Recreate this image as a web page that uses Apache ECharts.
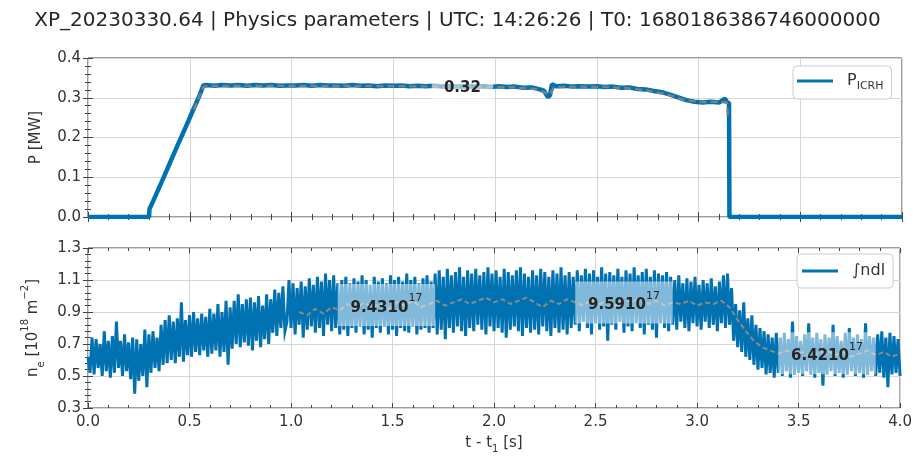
<!DOCTYPE html>
<html><head><meta charset="utf-8">
<script src="https://cdn.jsdelivr.net/npm/echarts@6/dist/echarts.min.js"></script>
<style>html,body{margin:0;padding:0;background:#fff}#c{width:915px;height:456px}</style>
</head><body><div id="c"></div>
<script>
// ---------- DATA ----------
const titleText = 'XP_20230330.64 | Physics parameters | UTC: 14:26:26 | T0: 1680186386746000000';
const xTicks = [0, 0.5, 1, 1.5, 2, 2.5, 3, 3.5, 4];
const pTicks = [0, 0.1, 0.2, 0.3, 0.4];
const neTicks = [0.3, 0.5, 0.7, 0.9, 1.1, 1.3];

// ICRH power [MW]
const pTime = [0.00,0.30,0.302,0.32,0.36,0.40,0.44,0.48,0.52,0.545,0.567,
  0.58,0.62,0.66,0.70,0.74,0.78,0.82,0.86,0.90,0.94,0.98,
  1.02,1.06,1.10,1.14,1.18,1.22,1.26,1.30,1.34,1.38,
  1.42,1.46,1.50,1.54,1.58,1.62,1.66,1.70,1.74,1.78,
  1.82,1.86,1.90,1.94,1.98,2.02,2.06,2.10,2.14,2.18,
  2.22,2.24,2.26,2.27,2.28,2.30,2.34,2.38,2.42,2.46,
  2.50,2.54,2.58,2.62,2.66,2.70,2.74,2.78,2.82,2.86,
  2.90,2.94,2.98,3.02,3.06,3.10,3.13,3.14,3.15,3.152,4.00];
const pValue = [0,0,0.020,0.040,0.086,0.133,0.180,0.226,0.273,0.302,0.331,
  0.332,0.330,0.332,0.331,0.332,0.330,0.332,0.331,0.332,0.330,0.331,
  0.331,0.332,0.330,0.332,0.331,0.331,0.330,0.332,0.330,0.331,
  0.329,0.331,0.330,0.331,0.329,0.330,0.329,0.330,0.328,0.329,
  0.328,0.329,0.328,0.329,0.327,0.329,0.327,0.328,0.325,0.326,
  0.321,0.318,0.302,0.306,0.334,0.329,0.330,0.328,0.329,0.328,
  0.329,0.327,0.328,0.325,0.326,0.322,0.321,0.317,0.314,0.308,
  0.301,0.294,0.290,0.288,0.290,0.288,0.298,0.289,0.286,0,0];
// smoothed ICRH power
const pSmoothT = [0.52,0.567,0.65,1.0,1.5,1.9,2.1,2.2,2.25,2.27,2.29,2.4,2.55,2.65,2.75,2.85,2.92,3.0,3.1,3.14,3.145];
const pSmoothV = [0.270,0.328,0.330,0.330,0.329,0.328,0.326,0.322,0.312,0.308,0.326,0.328,0.327,0.324,0.318,0.308,0.296,0.289,0.290,0.288,0.25];
// averaging window (top)
const pWinStart = [1.69], pWinEnd = [1.99], pWinMean = [0.325], pWinLabel = ['0.32'];

// line integrated density [1e18 m^-2], sampled every 0.01 s from t=0
const neStart = 0, neStep = 0.01;
const neValues = [
  0.62,0.52,0.74,0.51,0.73,0.55,0.70,0.50,0.78,0.53,
  0.72,0.49,0.75,0.52,0.84,0.55,0.72,0.50,0.76,0.53,
  0.71,0.48,0.74,0.39,0.73,0.47,0.70,0.50,0.79,0.43,
  0.76,0.52,0.78,0.55,0.74,0.53,0.82,0.57,0.85,0.58,
  0.88,0.60,0.84,0.58,0.86,0.62,0.96,0.59,0.85,0.63,
  0.88,0.62,0.90,0.65,0.86,0.63,0.89,0.66,0.87,0.62,
  0.92,0.64,0.89,0.66,0.95,0.62,0.90,0.65,0.97,0.57,
  0.93,0.67,0.97,0.70,1.01,0.68,0.95,0.71,0.98,0.69,
  0.99,0.66,0.96,0.72,1.00,0.68,0.94,0.73,1.01,0.70,
  0.98,0.77,1.04,0.75,1.02,0.80,1.06,0.78,0.84,1.10,
  0.80,1.08,0.76,1.05,0.82,1.09,0.74,1.06,0.79,1.11,
  0.81,1.07,0.77,1.12,0.80,1.09,0.75,1.14,0.82,1.10,
  0.78,1.13,0.80,1.08,0.76,1.10,0.79,1.12,0.75,1.08,
  0.80,1.11,0.77,1.09,0.81,1.13,0.76,1.10,0.79,1.07,
  0.74,1.12,0.80,1.09,0.77,1.11,0.81,1.08,0.76,1.13,
  0.79,1.10,0.75,1.12,0.80,1.09,0.78,1.14,0.77,1.10,
  0.81,1.12,0.76,1.08,0.79,1.11,0.80,1.13,0.77,1.09,
  0.80,1.14,0.76,1.16,0.79,1.12,0.73,1.17,0.80,1.13,
  0.77,1.15,0.81,1.18,0.78,1.12,0.75,1.16,0.80,1.14,
  0.78,1.17,0.82,1.13,0.79,1.15,0.76,1.18,0.81,1.14,
  0.78,1.16,0.80,1.12,0.77,1.17,0.74,1.15,0.79,1.13,
  0.81,1.16,0.78,1.18,0.75,1.14,0.80,1.12,0.77,1.16,
  0.79,1.13,0.76,1.17,0.81,1.15,0.78,1.12,0.75,1.16,
  0.80,1.14,0.77,1.18,0.79,1.13,0.76,1.15,0.80,1.12,
  0.82,1.16,0.78,1.13,0.84,1.17,0.80,1.14,0.76,1.16,
  0.83,1.12,0.79,1.18,0.81,1.14,0.72,1.15,0.82,1.13,
  0.79,1.17,0.84,1.12,0.77,1.16,0.81,1.14,0.78,1.18,
  0.83,1.13,0.80,1.15,0.76,1.17,0.82,1.12,0.79,1.16,
  0.74,1.14,0.83,1.13,0.80,1.15,0.78,1.12,0.82,1.10,
  0.79,1.13,0.84,1.08,0.80,1.11,0.78,1.09,0.83,1.12,
  0.81,1.07,0.79,1.10,0.84,1.08,0.80,1.11,0.82,1.06,
  0.78,1.09,0.83,1.13,0.80,1.14,0.82,1.05,0.72,0.95,
  0.68,0.91,0.65,0.96,0.62,0.86,0.60,0.88,0.57,0.82,
  0.54,0.80,0.55,0.78,0.51,0.76,0.52,0.74,0.49,0.77,
  0.52,0.74,0.50,0.77,0.53,0.73,0.49,0.84,0.51,0.75,
  0.52,0.72,0.50,0.76,0.53,0.83,0.51,0.74,0.49,0.77,
  0.52,0.73,0.44,0.76,0.51,0.74,0.53,0.82,0.50,0.75,
  0.52,0.72,0.49,0.77,0.51,0.80,0.53,0.74,0.50,0.76,
  0.52,0.73,0.49,0.83,0.51,0.75,0.53,0.74,0.50,0.76,
  0.52,0.78,0.49,0.74,0.43,0.77,0.51,0.75,0.52,0.73,
  0.50];
// smoothed density, every 0.04 s from t=1.04
const neSmoothStart = 1.04, neSmoothStep = 0.04;
const neSmooth = [
  0.90,0.88,0.92,0.89,0.93,0.91,0.95,0.92,0.96,0.93,
  0.95,0.92,0.96,0.94,0.97,0.93,0.95,0.97,0.94,0.96,
  0.98,0.95,0.97,0.99,0.96,0.98,0.95,0.97,0.99,0.96,
  0.93,0.97,0.95,0.98,0.96,0.94,0.98,0.95,0.97,0.94,
  0.98,0.96,0.99,0.95,0.97,0.94,0.96,0.95,0.97,0.94,
  0.96,0.95,0.97,0.93,0.85,0.78,0.72,0.68,0.66,0.64,
  0.66,0.63,0.65,0.62,0.64,0.66,0.63,0.65,0.62,0.64,
  0.66,0.63,0.65,0.62,0.64];
// averaging windows (bottom)
const neWinStart = [1.23, 2.40, 3.40];
const neWinEnd = [1.71, 2.88, 3.88];
const neWinMean = [0.943, 0.959, 0.642];
const neWinLabel = ['9.43', '9.59', '6.42'];
const neWinExp = '17';

// ---------- CHART ----------
const F = 'DejaVu Sans';
const BLUE = '#0072B2';
const TXT = '#333333';
const chart = echarts.init(document.getElementById('c'), null, {renderer: 'canvas'});

const tickStyle = {show: true, inside: true, length: 5, lineStyle: {color: '#444', width: 1}};
const minorStyle = {show: true, splitNumber: 5, length: 3, lineStyle: {color: '#444', width: 1}};
const splitStyle = {show: true, lineStyle: {color: '#d6d6d6', width: 1}};

function xAx(grid, pos, labels, main, extra) {
  return Object.assign({
    type: 'value', gridIndex: grid, position: pos, min: 0, max: 4, interval: 0.5,
    axisLine: {show: false}, axisTick: tickStyle, minorTick: minorStyle,
    splitLine: main ? splitStyle : {show: false},
    axisLabel: {show: labels, margin: 7, fontFamily: F, fontSize: 15, color: TXT,
      formatter: v => (xTicks.indexOf(+v.toFixed(2)) >= 0 ? v.toFixed(1) : '')}
  }, extra || {});
}
function yAx(grid, pos, min, max, interval, ticks, labels, main, extra) {
  return Object.assign({
    type: 'value', gridIndex: grid, position: pos, min: min, max: max, interval: interval,
    axisLine: {show: false}, axisTick: tickStyle, minorTick: minorStyle,
    splitLine: main ? splitStyle : {show: false},
    axisLabel: {show: labels, margin: 7, fontFamily: F, fontSize: 15, color: TXT,
      formatter: v => (ticks.indexOf(+v.toFixed(2)) >= 0 ? v.toFixed(1) : '')}
  }, extra || {});
}

function boxSeries(xi, yi, starts, ends, means, labels, expo, h, dy) {
  return {
    type: 'custom', xAxisIndex: xi, yAxisIndex: yi, z: 10, silent: true, animation: false,
    data: starts.map((s, i) => [s, ends[i], means[i]]),
    encode: {x: [0, 1], y: 2},
    renderItem(params, api) {
      const i = params.dataIndex;
      const p0 = api.coord([api.value(0), api.value(2)]);
      const p1 = api.coord([api.value(1), api.value(2)]);
      const text = expo ? '{v|' + labels[i] + '10}{s|' + expo + '}' : '{v|' + labels[i] + '}';
      return {type: 'group', children: [
        {type: 'rect', shape: {x: p0[0], y: p0[1] - h / 2, width: p1[0] - p0[0], height: h},
          style: {fill: 'rgba(255,255,255,0.5)'}},
        {type: 'text', x: (p0[0] + p1[0]) / 2, y: p0[1] + dy,
          style: {text: text, align: 'center', verticalAlign: 'middle',
            rich: {
              v: {fontFamily: F, fontSize: 15, fontWeight: 'bold', fill: '#262626', lineHeight: 30},
              s: {fontFamily: F, fontSize: 11, fill: '#262626', verticalAlign: 'top', lineHeight: 12}
            }}}
      ]};
    }
  };
}

const option = {
  animation: false,
  backgroundColor: '#ffffff',
  title: {text: titleText, left: 'center', top: 6,
    textStyle: {fontFamily: F, fontSize: 20, fontWeight: 'normal', color: '#262626'}},
  grid: [
    {left: 88, right: 13, top: 58, height: 159, show: true, borderColor: '#3a3a3a', borderWidth: 1, backgroundColor: 'transparent'},
    {left: 88, right: 13, top: 248, height: 160, show: true, borderColor: '#3a3a3a', borderWidth: 1, backgroundColor: 'transparent'}
  ],
  xAxis: [
    xAx(0, 'bottom', false, true),
    xAx(0, 'top', false, false),
    xAx(1, 'bottom', true, true, {
      name: '{t|t - t}{sb|1}{t| [s]}', nameLocation: 'middle', nameGap: 24,
      nameTextStyle: {fontFamily: F, fontSize: 15, color: TXT,
        rich: {t: {fontFamily: F, fontSize: 15, color: TXT, lineHeight: 22},
               sb: {fontFamily: F, fontSize: 10, color: TXT, verticalAlign: 'bottom', lineHeight: 12}}}
    }),
    xAx(1, 'top', false, false)
  ],
  yAxis: [
    yAx(0, 'left', 0, 0.4, 0.1, pTicks, true, true, {
      name: 'P [MW]', nameLocation: 'middle', nameGap: 44,
      nameTextStyle: {fontFamily: F, fontSize: 15, color: TXT}
    }),
    yAx(0, 'right', 0, 0.4, 0.1, pTicks, false, false),
    yAx(1, 'left', 0.3, 1.3, 0.2, neTicks, true, true, {
      name: '{t|n}{sb|e}{t| [10}{sp|18}{t| m}{sp|\u22122}{t|]}', nameLocation: 'middle', nameGap: 40,
      nameTextStyle: {fontFamily: F, fontSize: 15, color: TXT,
        rich: {t: {fontFamily: F, fontSize: 15, color: TXT, lineHeight: 26},
               sb: {fontFamily: F, fontSize: 10, color: TXT, verticalAlign: 'bottom', lineHeight: 12},
               sp: {fontFamily: F, fontSize: 10, color: TXT, verticalAlign: 'top', lineHeight: 12}}}
    }),
    yAx(1, 'right', 0.3, 1.3, 0.2, neTicks, false, false)
  ],
  legend: [
    {data: ['P_ICRH'], left: 793, top: 66, selectedMode: false, icon: 'rect',
      backgroundColor: '#fff', borderColor: '#cccccc', borderWidth: 1, borderRadius: 4,
      padding: [7, 8, 7, 4], itemWidth: 36, itemHeight: 3,
      itemStyle: {color: BLUE, borderWidth: 0},
      formatter: () => '{a|P}{b|ICRH}',
      textStyle: {fontFamily: F, fontSize: 16, color: TXT,
        rich: {a: {fontFamily: F, fontSize: 16, color: TXT, padding: [0, 0, 0, 9], lineHeight: 22},
               b: {fontFamily: F, fontSize: 11, color: TXT, verticalAlign: 'bottom', lineHeight: 12}}}},
    {data: ['ne'], left: 797, top: 254, selectedMode: false, icon: 'rect',
      backgroundColor: '#fff', borderColor: '#cccccc', borderWidth: 1, borderRadius: 4,
      padding: [9, 8, 9, 5], itemWidth: 36, itemHeight: 3,
      itemStyle: {color: BLUE, borderWidth: 0},
      formatter: () => '{a|\u222Bndl}',
      textStyle: {fontFamily: F, fontSize: 16, color: TXT,
        rich: {a: {fontFamily: F, fontSize: 16, color: TXT, padding: [0, 0, 0, 9]}}}}
  ],
  series: [
    {name: 'P_ICRH', type: 'line', xAxisIndex: 0, yAxisIndex: 0, symbol: 'none', showSymbol: false,
      data: pTime.map((t, i) => [t, pValue[i]]), lineStyle: {color: BLUE, width: 4.5}, itemStyle: {color: BLUE}, z: 2},
    {name: 'P_smooth', type: 'line', xAxisIndex: 0, yAxisIndex: 0, symbol: 'none', showSymbol: false,
      data: pSmoothT.map((t, i) => [t, pSmoothV[i]]), lineStyle: {color: '#7f7f7f', width: 2.4, type: [7, 4]}, z: 3},
    boxSeries(0, 0, pWinStart, pWinEnd, pWinMean, pWinLabel, null, 36, 0),
    {name: 'ne', type: 'line', xAxisIndex: 2, yAxisIndex: 2, symbol: 'none', showSymbol: false, sampling: null,
      data: neValues.map((v, i) => [neStart + i * neStep, v]), lineStyle: {color: BLUE, width: 3, join: 'miter'}, itemStyle: {color: BLUE}, z: 2},
    {name: 'ne_smooth', type: 'line', xAxisIndex: 2, yAxisIndex: 2, symbol: 'none', showSymbol: false,
      data: neSmooth.map((v, i) => [neSmoothStart + i * neSmoothStep, v]), lineStyle: {color: '#8a8a8a', width: 2, type: [5, 3]}, z: 3},
    boxSeries(2, 2, neWinStart, neWinEnd, neWinMean, neWinLabel, neWinExp, 42, 3)
  ]
};
chart.setOption(option);
</script></body></html>
